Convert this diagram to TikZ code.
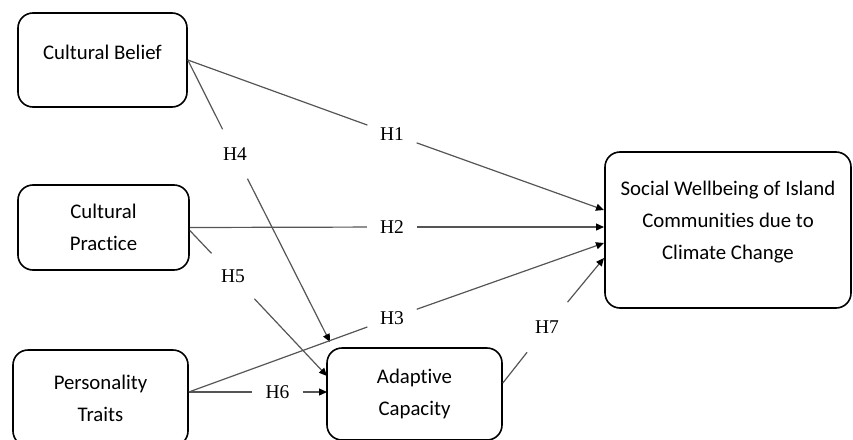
\documentclass[tikz,border=0pt]{standalone}
\usepackage{fontspec}
\setmainfont{Carlito}[Ligatures=NoCommon]
\newfontfamily\hypfont{Liberation Serif}
\usetikzlibrary{arrows.meta}
\usetikzlibrary{calc}
\definecolor{linegray}{RGB}{85,85,85}
\newcommand{\drawline}{\draw[linegray, line width=1.2pt]}
\newcommand{\drawarrow}{\draw[linegray, line width=1.2pt, -{Triangle[length=8pt, width=7pt, color=black]}]}

\begin{document}
\begin{tikzpicture}[x=1pt, y=-1pt,
    box/.style={draw, line width=1.6pt, rounded corners=15pt, align=center,
        inner sep=0pt, font=\fontsize{20.8}{32}\selectfont},
    hyp/.style={circle, inner sep=0pt, minimum size=#1,
        font=\hypfont\fontsize{19.5}{21}\selectfont},
    hyp/.default=52pt]
    \useasboundingbox (0,0) rectangle (853,439);
    \clip (0,0) rectangle (853,439);

    % Draw boxes
    \node[box, minimum width=169pt, minimum height=94pt, text depth=16pt] (belief) at (102.5,60) {Cultural Belief};
    \node[box, minimum width=171pt, minimum height=85pt] (practice) at (103.5,227.5) {Cultural\\Practice};
    \node[box, minimum width=175pt, minimum height=96pt] (traits) at (100.5,398) {Personality\\Traits};
    \node[box, minimum width=175pt, minimum height=92pt] (adaptive) at (414.5,394) {Adaptive\\Capacity};
    \node[box, minimum width=246pt, minimum height=156pt, text depth=20pt] (wellbeing) at (728,230) {Social Wellbeing of Island\\Communities due to\\Climate Change};

    % Draw hypotheses
    \node[hyp] (h1) at (392,134) {H1};
    \node[hyp=50pt] (h2) at (392,227) {H2};
    \node[hyp] (h3) at (392,318) {H3};
    \node[hyp=55pt] (h4) at (235,154) {H4};
    \node[hyp=62pt] (h5) at (233,276) {H5};
    \node[hyp=50pt] (h6) at (277.5,392) {H6};
    \node[hyp=64pt] (h7) at (547,327) {H7};

    % Arrow ends
    \coordinate (w1) at (604,210);
    \coordinate (w2) at (604,227);
    \coordinate (w3) at (604,243);
    \coordinate (w7) at (604,258);
    \coordinate (a4) at (330,342);
    \coordinate (a5) at (327,376);
    \coordinate (a6) at (327,392);

    % Draw paths
    \drawline (belief.east) -- (h1);
    \drawarrow (h1) -- (w1);
    \drawline (belief.east) -- (h4);
    \drawarrow (h4) -- (a4);
    \drawline (practice.east) -- (h2);
    \drawarrow (h2) -- (w2);
    \drawline ([yshift=-3pt]practice.east) -- (h5);
    \drawarrow (h5) -- (a5);
    \drawline ([yshift=6pt]traits.east) -- (h3);
    \drawarrow (h3) -- (w3);
    \drawline ([yshift=6pt]traits.east) -- (h6);
    \drawarrow (h6) -- (a6);
    \drawline ([yshift=11pt]adaptive.east) -- (h7);
    \drawarrow (h7) -- (w7);
\end{tikzpicture}
\end{document}
